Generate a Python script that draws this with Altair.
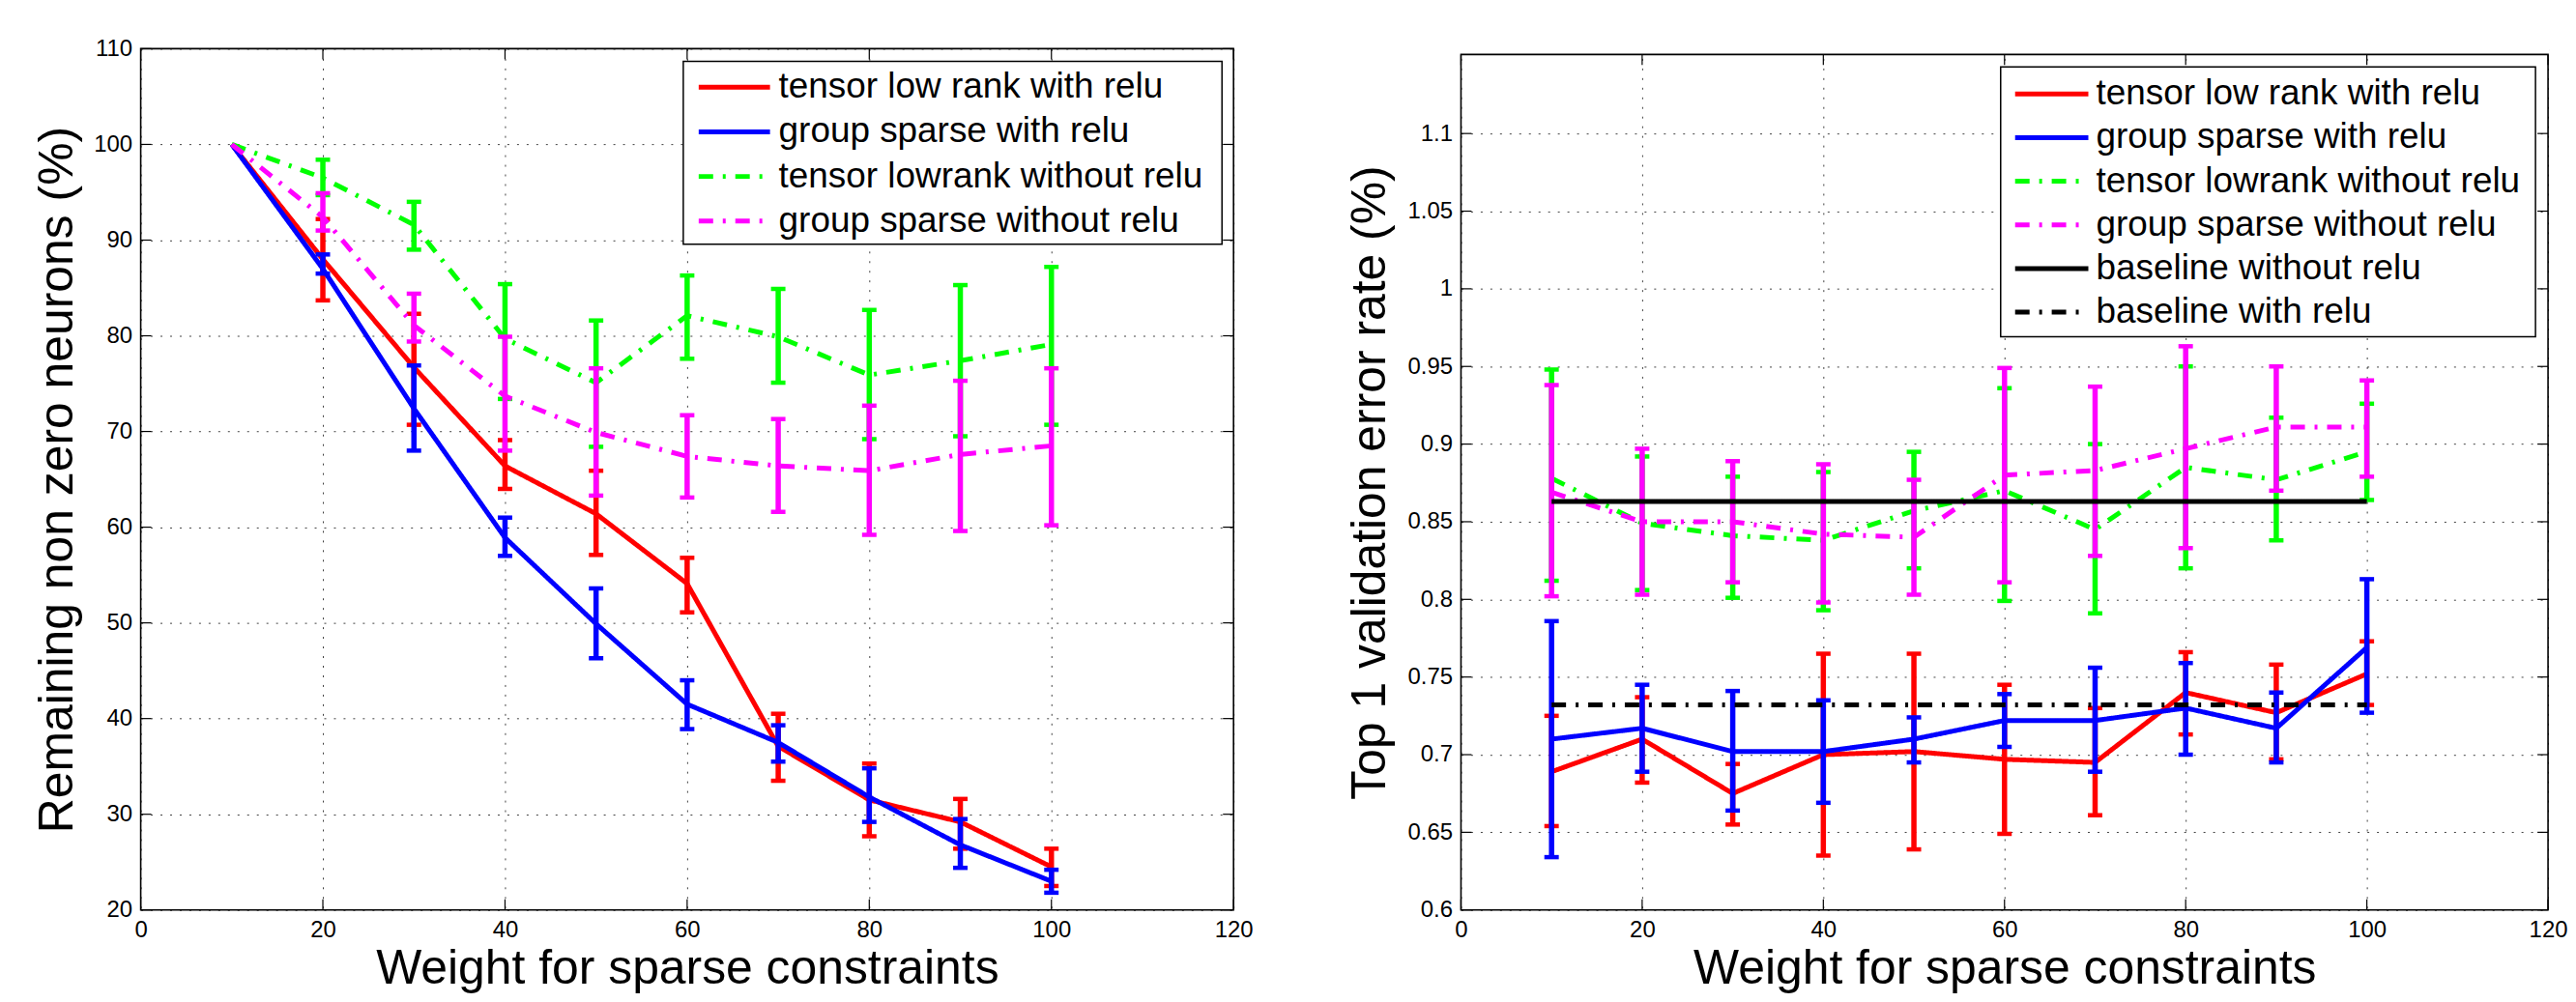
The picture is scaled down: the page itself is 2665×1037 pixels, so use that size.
import altair as alt
import pandas as pd

# ---------------- data ----------------
X = [10, 20, 30, 40, 50, 60, 70, 80, 90, 100]
X_TICKS = [0, 20, 40, 60, 80, 100, 120]
X_TITLE = "Weight for sparse constraints"

# Left panel: remaining non zero neurons (%)
L_NAMES = ["tensor low rank with relu", "group sparse with relu",
           "tensor lowrank without relu", "group sparse without relu"]
L_COLORS = ["#ff0000", "#0000ff", "#00ff00", "#ff00ff"]
L_TLR_MEAN = [100, 88.0, 76.7, 66.4, 61.4, 54.1, 37.1, 31.5, 29.2, 24.5]
L_TLR_HI = [None, 92.2, 82.3, 69.1, 65.9, 56.8, 40.5, 35.3, 31.6, 26.4]
L_TLR_LO = [None, 83.7, 70.7, 64.0, 57.1, 51.1, 33.5, 27.7, 26.4, 22.5]
L_GS_MEAN = [100, 87.0, 72.4, 58.9, 49.9, 41.5, 37.5, 31.8, 26.8, 23.0]
L_GS_HI = [None, 88.5, 76.9, 61.0, 53.6, 44.0, 39.3, 34.8, 29.5, 24.2]
L_GS_LO = [None, 86.5, 68.0, 57.0, 46.3, 38.9, 35.5, 29.2, 24.4, 21.8]
L_TLN_MEAN = [100, 96.5, 91.6, 79.7, 75.1, 82.1, 79.9, 75.9, 77.4, 79.1]
L_TLN_HI = [None, 98.4, 94.0, 85.4, 81.6, 86.3, 84.9, 82.7, 85.3, 87.2]
L_TLN_LO = [None, 94.7, 89.0, 73.4, 68.4, 77.6, 75.1, 69.2, 69.5, 70.7]
L_GSN_MEAN = [100, 92.4, 81.1, 73.7, 69.9, 67.4, 66.4, 65.9, 67.6, 68.5]
L_GSN_HI = [None, 94.9, 84.4, 79.9, 76.6, 71.7, 71.3, 72.7, 75.3, 76.6]
L_GSN_LO = [None, 91.0, 79.4, 68.0, 63.3, 63.1, 61.6, 59.2, 59.6, 60.2]
L_Y_TICKS = [20, 30, 40, 50, 60, 70, 80, 90, 100, 110]
L_Y_TITLE = "Remaining non zero neurons (%)"

# Right panel: top 1 validation error rate (%)
R_NAMES = L_NAMES + ["baseline without relu", "baseline with relu"]
R_COLORS = L_COLORS + ["#000000", "#000000"]
R_TLR_MEAN = [0.689, 0.710, 0.675, 0.700, 0.702, 0.697, 0.695, 0.740, 0.727, 0.752]
R_TLR_HI = [0.725, 0.737, 0.694, 0.765, 0.765, 0.745, 0.730, 0.766, 0.758, 0.773]
R_TLR_LO = [0.654, 0.682, 0.655, 0.635, 0.639, 0.649, 0.661, 0.713, 0.697, 0.732]
R_GS_MEAN = [0.710, 0.717, 0.702, 0.702, 0.710, 0.722, 0.722, 0.730, 0.717, 0.769]
R_GS_HI = [0.786, 0.745, 0.741, 0.735, 0.724, 0.739, 0.756, 0.759, 0.740, 0.813]
R_GS_LO = [0.634, 0.689, 0.664, 0.669, 0.695, 0.705, 0.689, 0.700, 0.695, 0.727]
R_TLN_MEAN = [0.878, 0.849, 0.841, 0.838, 0.857, 0.870, 0.845, 0.885, 0.877, 0.895]
R_TLN_HI = [0.948, 0.892, 0.879, 0.882, 0.895, 0.936, 0.900, 0.950, 0.917, 0.926]
R_TLN_LO = [0.812, 0.806, 0.801, 0.793, 0.820, 0.799, 0.791, 0.820, 0.838, 0.864]
R_GSN_MEAN = [0.869, 0.850, 0.850, 0.842, 0.840, 0.880, 0.883, 0.897, 0.911, 0.911]
R_GSN_HI = [0.938, 0.897, 0.889, 0.887, 0.877, 0.949, 0.937, 0.963, 0.950, 0.941]
R_GSN_LO = [0.802, 0.803, 0.811, 0.798, 0.803, 0.811, 0.828, 0.833, 0.870, 0.879]
R_BASE_X = [10, 100]
R_BASE_NO_RELU = 0.863
R_BASE_RELU = 0.732
R_Y_TICKS = [0.6, 0.65, 0.7, 0.75, 0.8, 0.85, 0.9, 0.95, 1.0, 1.05, 1.1]
R_Y_TITLE = "Top 1 validation error rate (%)"

SOLID = [1, 0]
DASHDOT = [15, 10, 3, 10]
FONT = "Liberation Sans"
ONE = pd.DataFrame({"k": [0]})


def legend_layers(names, colors, dashes, box, sym, text_x, y0, dy):
    out = [alt.Chart(ONE).mark_rect(fill="white", stroke="black",
                                     strokeWidth=1.5).encode(
        x=alt.value(box[0]), x2=alt.value(box[1]),
        y=alt.value(box[2]), y2=alt.value(box[3]))]
    for i, (n, c, d) in enumerate(zip(names, colors, dashes)):
        yy = y0 + i * dy
        out.append(alt.Chart(ONE).mark_rule(
            color=c, strokeWidth=5, strokeDash=d).encode(
            x=alt.value(sym[0]), x2=alt.value(sym[1]), y=alt.value(yy)))
        out.append(alt.Chart(ONE).mark_text(
            text=n, align="left", baseline="middle", font=FONT,
            fontSize=37, color="black").encode(
            x=alt.value(text_x), y=alt.value(yy)))
    return out


def panel(colors, dashes, series, baselines, ydom, yticks, yfmt,
          ytitle, W, H, top, title_x, leg):
    xscale = alt.Scale(domain=[0, 120], nice=False, zero=False)
    yscale = alt.Scale(domain=ydom, nice=False, zero=False)
    xaxis = alt.Axis(values=X_TICKS, title=X_TITLE, labelFlush=False,
                     labelOverlap=False)
    yaxis = alt.Axis(values=yticks, format=yfmt, title=ytitle,
                     titleX=title_x, titleY=top + (H - top) / 2,
                     titleAngle=-90, titleAlign="center",
                     titleBaseline="middle", labelOverlap=False)

    def xe(f):
        return alt.X(f"{f}:Q", scale=xscale, axis=xaxis)

    def ye(f):
        return alt.Y(f"{f}:Q", scale=yscale, axis=yaxis)

    layers = []
    # inward box ticks
    xt = pd.DataFrame({"x": X_TICKS})
    yt = pd.DataFrame({"y": yticks})
    tick_style = dict(color="black", strokeWidth=1.2)
    layers.append(alt.Chart(xt).mark_rule(**tick_style).encode(
        x=xe("x"), y=alt.value(H), y2=alt.value(H - 11)))
    layers.append(alt.Chart(xt).mark_rule(**tick_style).encode(
        x=xe("x"), y=alt.value(top), y2=alt.value(top + 11)))
    layers.append(alt.Chart(yt).mark_rule(**tick_style).encode(
        y=ye("y"), x=alt.value(0), x2=alt.value(11)))
    layers.append(alt.Chart(yt).mark_rule(**tick_style).encode(
        y=ye("y"), x=alt.value(W - 11), x2=alt.value(W)))

    for (name, mean, hi, lo), c, d in zip(series, colors, dashes):
        df = pd.DataFrame({"x": X, "y": mean})
        eb = pd.DataFrame({"x": X, "lo": lo, "hi": hi}).dropna()
        caps = pd.concat([eb[["x"]].assign(cap=eb["lo"]),
                          eb[["x"]].assign(cap=eb["hi"])])
        layers.append(alt.Chart(eb).mark_rule(strokeWidth=5.5, color=c).encode(
            x=xe("x"), y=ye("lo"), y2="hi:Q"))
        layers.append(alt.Chart(caps).mark_tick(
            orient="horizontal", size=15, thickness=4.5, color=c,
            opacity=1).encode(x=xe("x"), y=ye("cap")))
        layers.append(alt.Chart(df).mark_line(
            strokeWidth=5, color=c, strokeDash=d).encode(
            x=xe("x"), y=ye("y")))

    for (xs, val), c, d in zip(baselines, colors[len(series):],
                               dashes[len(series):]):
        df = pd.DataFrame({"x": xs, "y": [val] * len(xs)})
        layers.append(alt.Chart(df).mark_line(
            strokeWidth=5, color=c, strokeDash=d).encode(
            x=xe("x"), y=ye("y")))

    if top > 0:
        # hide grid above the frame
        layers.append(alt.Chart(ONE).mark_rect(fill="white").encode(
            x=alt.value(-1), x2=alt.value(W + 1),
            y=alt.value(-1), y2=alt.value(top)))
    # frame
    layers.append(alt.Chart(ONE).mark_rect(
        fillOpacity=0, stroke="black", strokeWidth=1.6).encode(
        x=alt.value(0), x2=alt.value(W), y=alt.value(top), y2=alt.value(H)))

    layers += leg
    return alt.layer(*layers).properties(width=W, height=H)


L_DASHES = [SOLID, SOLID, DASHDOT, DASHDOT]
R_DASHES = [SOLID, SOLID, DASHDOT, DASHDOT, SOLID, DASHDOT]

left = panel(
    L_COLORS, L_DASHES,
    [(L_NAMES[0], L_TLR_MEAN, L_TLR_HI, L_TLR_LO),
     (L_NAMES[1], L_GS_MEAN, L_GS_HI, L_GS_LO),
     (L_NAMES[2], L_TLN_MEAN, L_TLN_HI, L_TLN_LO),
     (L_NAMES[3], L_GSN_MEAN, L_GSN_HI, L_GSN_LO)],
    [], [20, 110], L_Y_TICKS, "d", L_Y_TITLE,
    1134, 894, 0, -86,
    legend_layers(L_NAMES, L_COLORS, L_DASHES, (563, 1122, 13, 203),
                  (579, 653), 662, 40, 46.3))

right = panel(
    R_COLORS, R_DASHES,
    [(R_NAMES[0], R_TLR_MEAN, R_TLR_HI, R_TLR_LO),
     (R_NAMES[1], R_GS_MEAN, R_GS_HI, R_GS_LO),
     (R_NAMES[2], R_TLN_MEAN, R_TLN_HI, R_TLN_LO),
     (R_NAMES[3], R_GSN_MEAN, R_GSN_HI, R_GSN_LO)],
    [(R_BASE_X, R_BASE_NO_RELU), (R_BASE_X, R_BASE_RELU)],
    [0.6, 1.1546], R_Y_TICKS, ".2~f", R_Y_TITLE,
    1128, 894, 6, -94,
    legend_layers(R_NAMES, R_COLORS, R_DASHES, (560, 1115, 19, 299),
                  (575, 651), 659, 47, 45.3))

chart = alt.hconcat(left, right, spacing=236, bounds="flush").resolve_scale(
    x="independent", y="independent").properties(
    padding={"left": 27, "top": 29, "right": 0, "bottom": 5}
).configure(font=FONT).configure_view(
    strokeOpacity=0
).configure_axis(
    labelFont=FONT, labelFontSize=24, labelColor="black",
    titleFont=FONT, titleFontSize=50, titleFontWeight="normal",
    titleColor="black", grid=True, gridColor="#000000", gridDash=[2, 8],
    gridOpacity=0.75, gridWidth=1, ticks=False, domain=False,
    labelPadding=9
).configure_axisX(labelPadding=9, titlePadding=3)

chart.save("out.html", embed_options={"renderer": "svg", "actions": False})
